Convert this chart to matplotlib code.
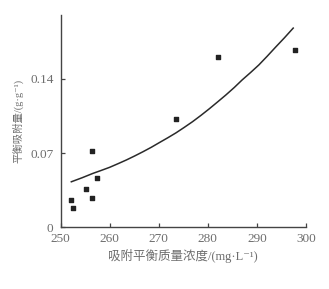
import matplotlib
matplotlib.use('Agg')
import matplotlib.pyplot as plt

# measured points
conc = [252.2, 252.6, 255.1, 256.4, 256.4, 257.4, 273.6, 282.1, 297.7]
q_eq = [0.0255, 0.0179, 0.0364, 0.0717, 0.0276, 0.0468, 0.1019, 0.1604, 0.1670]

# fitted curve
fit_x = [252.2, 254.4, 256.6, 258.3, 260.0, 261.7, 263.4, 265.1, 266.8, 268.5,
         270.1, 271.8, 273.5, 275.2, 276.9, 278.6, 280.3, 282.0, 283.7, 285.4,
         287.0, 288.7, 290.4, 292.1, 293.8, 295.6, 297.4]
fit_y = [0.0430, 0.0468, 0.0509, 0.0537, 0.0566, 0.0600, 0.0635, 0.0673,
         0.0713, 0.0755, 0.0798, 0.0843, 0.0890, 0.0942, 0.0996, 0.1055,
         0.1117, 0.1182, 0.1248, 0.1318, 0.1389, 0.1458, 0.1530, 0.1612,
         0.1697, 0.1785, 0.1877]

x_ticks = [250, 260, 270, 280, 290, 300]
y_ticks = [0, 0.07, 0.14]
y_labels = ['0', '0.07', '0.14']

fonts = ['Liberation Serif', 'Noto Sans CJK SC', 'DejaVu Sans']
plt.rcParams['font.family'] = fonts
grey = '#6e6e6e'

fig = plt.figure(figsize=(3.29, 2.89), dpi=100)
ax = fig.add_axes([0.184, 0.213, 0.746, 0.735])

ax.plot(fit_x, fit_y, color='#2a2a2a', lw=1.1)
ax.scatter(conc, q_eq, marker='s', s=10, color='#222222', zorder=3)

ax.set_xlim(250, 300)
ax.set_ylim(0, 0.2)
ax.set_xticks(x_ticks)
ax.set_yticks(y_ticks)
ax.set_yticklabels(y_labels)

for s in ['top', 'right']:
    ax.spines[s].set_visible(False)
for s in ['left', 'bottom']:
    ax.spines[s].set_color('#444444')
    ax.spines[s].set_linewidth(1.0)

ax.tick_params(direction='in', length=3, width=0.9, color='#444444',
               labelcolor=grey, labelsize=9.5)
ax.tick_params(axis='x', pad=4)
ax.tick_params(axis='y', pad=5)

ax.set_xlabel('吸附平衡质量浓度/(mg·L⁻¹)', color=grey, fontsize=9, labelpad=3)
ax.set_ylabel('平衡吸附量/(g·g⁻¹)', color=grey, fontsize=7.5, labelpad=5)

fig.savefig('out.png', dpi=100)
